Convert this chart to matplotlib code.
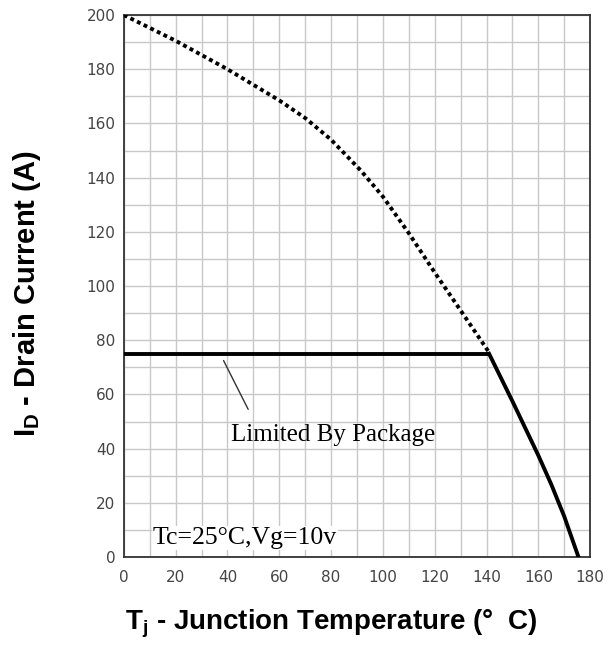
import matplotlib.pyplot as plt

# current capability (silicon limit, dotted)
si_temp = [0, 20, 40, 60, 70, 80, 91.5, 100, 110, 120, 130, 141]
si_current = [200, 190.5, 180, 168.5, 162, 154, 142.6, 133, 119.5, 105, 91, 75.5]

# package limit + derating (solid)
pkg_temp = [0, 141]
pkg_current = [75, 75]
der_temp = [141, 150, 160, 165, 170, 175.5]
der_current = [75, 57.5, 37.5, 26.8, 15, 0]

x_ticks = list(range(0, 181, 20))
y_ticks = list(range(0, 201, 20))

plt.rcParams['mathtext.fontset'] = 'custom'
plt.rcParams['mathtext.rm'] = 'Liberation Sans:bold'
plt.rcParams['mathtext.it'] = 'Liberation Sans:bold'
plt.rcParams['mathtext.bf'] = 'Liberation Sans:bold'

fig = plt.figure(figsize=(6.16, 6.53), dpi=100)
ax = fig.add_axes([0.201, 0.147, 0.757, 0.830])

ax.plot(si_temp, si_current, color='black', lw=2.8, linestyle=(0, (1, 0.9)), zorder=3)
ax.plot(pkg_temp, pkg_current, color='black', lw=2.8, solid_capstyle='butt', zorder=3)
ax.plot(der_temp, der_current, color='black', lw=2.8, solid_joinstyle='round', zorder=3)

ax.set_xlim(0, 180)
ax.set_ylim(0, 200)
ax.set_xticks(x_ticks)
ax.set_yticks(y_ticks)
ax.set_xticks(range(0, 181, 10), minor=True)
ax.set_yticks(range(0, 201, 10), minor=True)
ax.grid(True, which='both', color='#c8c8c8', lw=1.0, zorder=0)
ax.tick_params(which='both', length=0, labelsize=11, labelcolor='#444444')
ax.tick_params(axis='x', pad=9)
ax.tick_params(axis='y', pad=6)
for sp in ax.spines.values():
    sp.set_color('#333333')
    sp.set_linewidth(1.3)
ax.set_axisbelow(True)

ax.set_xlabel(r'T$_\mathrm{j}$ - Junction Temperature (°  C)', fontsize=20,
              fontweight='bold', family='Liberation Sans', va='center')
ax.set_ylabel(r'I$_\mathrm{D}$ - Drain Current (A)', fontsize=21,
              fontweight='bold', family='Liberation Sans', va='center')
ax.xaxis.set_label_coords(0.446, -0.1235)
ax.yaxis.set_label_coords(-0.208, 0.485)

# leader line for the package limit note
ax.annotate('', xy=(38.5, 72.5), xytext=(48, 54.5),
            arrowprops=dict(arrowstyle='-', color='#333333', lw=1,
                            shrinkA=0, shrinkB=0))
ax.text(41.5, 45.2, 'Limited By Package', fontsize=18, family='Liberation Serif',
        va='center', ha='left')

ax.text(11.2, 7.0, 'Tc=25°C,Vg=10v', fontsize=18.5, family='Liberation Serif',
        va='center', ha='left', zorder=4,
        bbox=dict(facecolor='white', edgecolor='none', pad=1))

fig.savefig('out.png', dpi=100)
